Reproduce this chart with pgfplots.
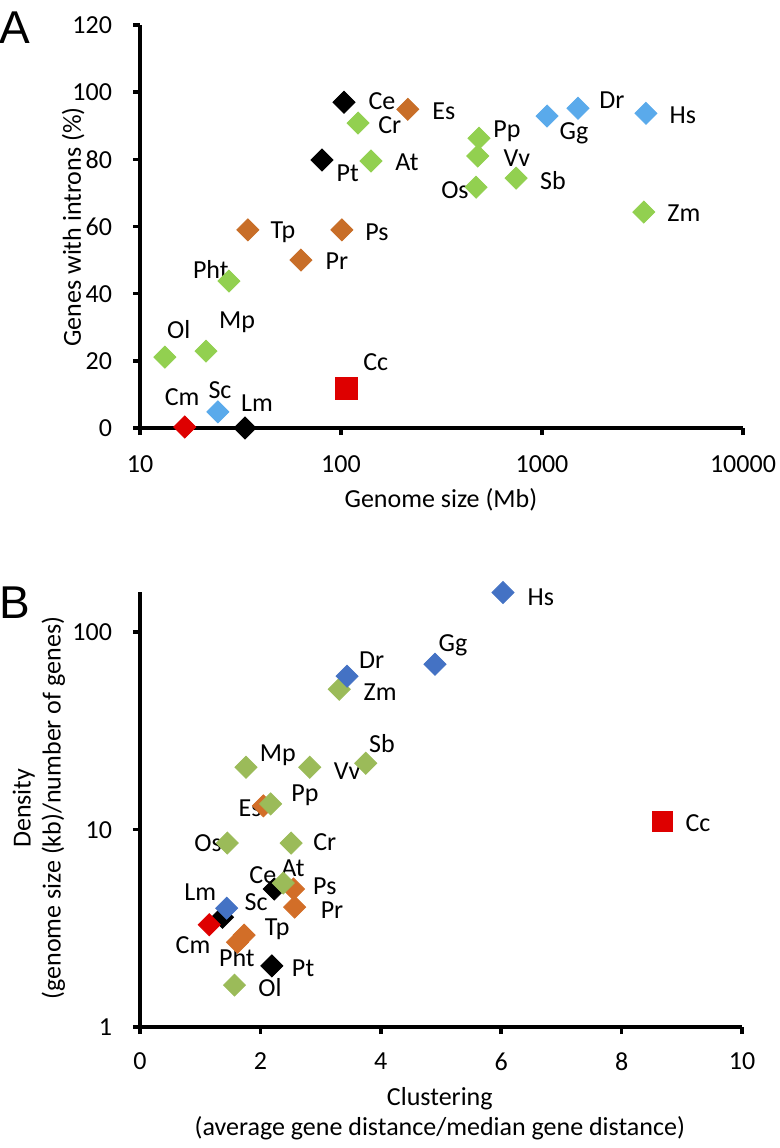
\documentclass[border=0pt]{standalone}
\usepackage{pgfplots}
\pgfplotsset{compat=1.18}
\usepackage{fontspec}
\setmainfont{Carlito}
\newfontfamily\arialfont{Liberation Sans}

\definecolor{grnA}{RGB}{146,208,80}
\definecolor{orgA}{RGB}{200,110,40}
\definecolor{bluA}{RGB}{90,170,235}
\definecolor{grnB}{RGB}{155,187,89}
\definecolor{orgB}{RGB}{210,110,40}
\definecolor{bluB}{RGB}{68,114,196}
\definecolor{redC}{RGB}{222,0,0}

\pgfplotsset{
  panel/.style={
    scale only axis, clip=false,
    axis x line*=bottom, axis y line*=left,
    x axis line style={-}, y axis line style={-},
    axis line style={line width=1.8pt},
    every tick/.style={line width=1.8pt, black},
    major tick length=3.5pt, tick align=outside,
    xminorticks=false, yminorticks=false,
    tick label style={font=\fontsize{13}{15}\selectfont},
    yticklabel style={xshift=-7pt},
    label style={font=\fontsize{13}{15}\selectfont},
    /pgf/number format/assume math mode=true,
  },
  dia/.style={only marks, mark=square*, mark size=3.9pt,
    mark options={rotate=45, draw=#1, fill=#1}},
  sqr/.style={only marks, mark=square*, mark size=#1,
    mark options={draw=redC, fill=redC}},
}
\newcommand{\lab}[3]{\node[inner sep=0pt] at (axis cs:#1,#2) {#3};}

\begin{document}
\begin{tikzpicture}[font=\fontsize{13}{15}\selectfont]
\useasboundingbox (0,0) rectangle (390pt,-574pt);

\node[font=\arialfont\fontsize{23}{23}\selectfont] at (7.5pt,-14pt) {A};
\node[font=\arialfont\fontsize{23}{23}\selectfont] at (7.5pt,-301.5pt) {B};

% panel A
\begin{axis}[panel,
  at={(70pt,-214pt)}, anchor=south west,
  width=301.5pt, height=201.5pt,
  xmode=log, xmin=10, xmax=10000,
  xtick={10,100,1000,10000}, xticklabels={10,100,1000,10000},
  xticklabel style={yshift=-7pt},
  ymin=0, ymax=120, ytick={0,20,...,120},
  xlabel={Genome size (Mb)},
  ylabel={Genes with introns (\%)},
  every axis x label/.style={at={(axis description cs:0.499,-0.179)}, anchor=center},
  every axis y label/.style={at={(axis description cs:-0.111,0.499)}, anchor=center, rotate=90},
]
\addplot[dia=orgA] coordinates {(215,94.9) (34.4,59) (101,59) (63.2,50)};
\addplot[dia=black] coordinates {(103.5,97) (80.4,79.8) (33.3,0)};
\addplot[dia=grnA] coordinates {(121.6,90.8) (141,79.5) (27.7,43.75) (13.3,21.1)
  (21.3,22.9) (486,86.3) (479,81) (470,71.7) (743,74.4) (3210,64.3)};
\addplot[dia=bluA] coordinates {(24.4,4.8) (1060,92.9) (1510,95.2) (3290,93.7)};
\addplot[dia=redC] coordinates {(16.7,0.3)};
\addplot[sqr=5.5pt] coordinates {(106,11.9)};
\lab{160}{97.4}{Ce}
\lab{175}{90.2}{Cr}
\lab{325}{94.3}{Es}
\lab{108}{75.9}{Pt}
\lab{213}{79.2}{At}
\lab{51.4}{58.3}{Tp}
\lab{151}{58.3}{Ps}
\lab{95.5}{49.7}{Pr}
\lab{22.5}{47.3}{Pht}
\lab{15.6}{29.2}{Ol}
\lab{30.4}{31.5}{Mp}
\lab{149}{19.6}{Cc}
\lab{25.0}{11.3}{Sc}
\lab{16.2}{9.2}{Cm}
\lab{38.2}{7.4}{Lm}
\lab{670}{88.4}{Pp}
\lab{751}{80.4}{Vv}
\lab{369}{70.8}{Os}
\lab{1135}{73.8}{Sb}
\lab{1443}{87.8}{Gg}
\lab{2230}{97.6}{Dr}
\lab{5020}{93.2}{Hs}
\lab{5080}{64.0}{Zm}
\end{axis}

% panel B
\begin{axis}[panel,
  at={(70pt,-513.5pt)}, anchor=south west,
  width=301pt, height=217.5pt,
  xmin=0, xmax=10, xtick={0,2,...,10},
  xticklabel style={yshift=-6pt},
  ymode=log, ymin=1, ymax=160,
  ytick={1,10,100}, yticklabels={1,10,100},
  xlabel={Clustering\\(average gene distance/median gene distance)},
  ylabel={Density\\(genome size (kb)/number of genes)},
  every axis x label/.style={at={(axis description cs:0.498,-0.2)}, anchor=center, align=center},
  every axis y label/.style={at={(axis description cs:-0.168,0.503)}, anchor=center, rotate=90, align=center},
]
\addplot[dia=orgB] coordinates {(2.05,13.2) (2.55,5.0) (2.57,4.05) (1.73,2.92) (1.62,2.69)};
\addplot[dia=black] coordinates {(2.23,5.0) (1.37,3.6) (2.19,2.04)};
\addplot[dia=grnB] coordinates {(3.31,51.5) (1.76,20.7) (2.82,20.7) (3.75,21.7)
  (2.17,13.5) (1.45,8.55) (2.51,8.55) (2.38,5.36) (1.57,1.63)};
\addplot[dia=bluB] coordinates {(6.03,159) (4.90,68.9) (3.44,59.9) (1.44,4.0)};
\addplot[dia=redC] coordinates {(1.15,3.3)};
\addplot[sqr=5pt] coordinates {(8.67,11.0)};
\lab{6.66}{150}{Hs}
\lab{5.20}{85.9}{Gg}
\lab{9.27}{10.8}{Cc}
\lab{3.85}{72.1}{Dr}
\lab{3.99}{49.7}{Zm}
\lab{4.02}{27.4}{Sb}
\lab{2.29}{23.8}{Mp}
\lab{3.44}{19.8}{Vv}
\lab{2.74}{14.9}{Pp}
\lab{1.83}{12.8}{Es}
\lab{1.13}{8.54}{Os}
\lab{3.07}{8.64}{Cr}
\lab{2.04}{5.89}{Ce}
\lab{2.54}{6.38}{At}
\lab{3.07}{5.15}{Ps}
\lab{3.19}{3.90}{Pr}
\lab{1.0}{4.83}{Lm}
\lab{1.93}{4.29}{Sc}
\lab{0.88}{2.60}{Cm}
\lab{2.28}{3.13}{Tp}
\lab{1.61}{2.26}{Pht}
\lab{2.71}{1.99}{Pt}
\lab{2.16}{1.59}{Ol}
\end{axis}
\end{tikzpicture}
\end{document}
